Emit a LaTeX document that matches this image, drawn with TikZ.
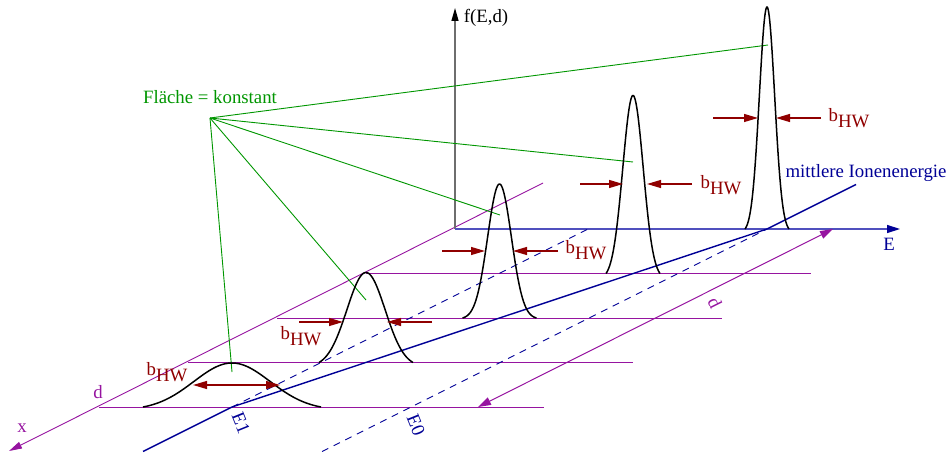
\documentclass[tikz,border=0pt]{standalone}
\usepackage{fontspec}
\setmainfont{Liberation Serif}
\usetikzlibrary{arrows.meta}
\definecolor{cpurple}{RGB}{150,20,160}
\definecolor{cgreen}{RGB}{0,150,0}
\definecolor{cred}{RGB}{144,0,0}
\definecolor{cblue}{RGB}{0,0,150}
\definecolor{caxisblue}{RGB}{80,80,190}
\definecolor{caxisgray}{RGB}{110,110,110}
\newcommand\gpeak[5]{% cx, baseline, height, hwhm, base half width
  \draw[peakline] plot[domain=-#5:#5, samples=90, smooth]
    ({#1+\x},{#2-#3*(exp(-0.6931*(\x/#4)^2)-exp(-0.6931*(#5/#4)^2))/(1-exp(-0.6931*(#5/#4)^2))});}
\newcommand\bhw{b\raisebox{-6pt}{HW}}
\tikzset{
  lbl/.style={font=\fontsize{18.8}{22}\selectfont, inner sep=0pt},
  peakline/.style={black, line width=1.5pt},
  levelline/.style={cpurple, line width=1pt},
  greenline/.style={cgreen, line width=0.9pt},
  hwarrow/.style={cred, line width=1.2pt, -{Triangle[length=14pt,width=8pt]}},
  hwdouble/.style={cred, line width=1.2pt, {Triangle[length=14pt,width=8pt]}-{Triangle[length=14pt,width=8pt]}},
  meanline/.style={cblue, line width=1.4pt},
  dashline/.style={cblue, line width=0.9pt, dash pattern=on 7pt off 6pt},
}
\begin{document}
\begin{tikzpicture}[x=1pt,y=-1pt]
\useasboundingbox (0,0) rectangle (949,454);
% key points
\coordinate (O) at (455,229);
\coordinate (Etip) at (900,229);
\coordinate (ftip) at (455,8);
\coordinate (xtop) at (543,183);
\coordinate (xtip) at (9,451);
% level lines
\coordinate (L0a) at (99,407);   \coordinate (L0b) at (544,407);
\coordinate (L1a) at (188,362.5); \coordinate (L1b) at (633,362.5);
\coordinate (L2a) at (277,318);  \coordinate (L2b) at (722,318);
\coordinate (L3a) at (366,273.5); \coordinate (L3b) at (811,273.5);
% mean energy line
\coordinate (M0) at (143,451.5);
\coordinate (M1) at (232,407);
\coordinate (M2) at (767,229);
\coordinate (M3) at (856,184.5);
% dashed lines
\coordinate (E1a) at (232,407); \coordinate (E1b) at (588,229);
\coordinate (E0a) at (322,451.5); \coordinate (E0b) at (767,229);
% d arrow
\coordinate (da) at (478,407); \coordinate (db) at (833,229);
% green
\coordinate (G) at (210,118);
\coordinate (G4) at (768,45);
\coordinate (G3) at (633,162);
\coordinate (G2) at (500,215);
\coordinate (G1) at (366,300);
\coordinate (G0) at (232,372);

\draw[levelline] (L0a) -- (L0b);
\draw[levelline] (L1a) -- (L1b);
\draw[levelline] (L2a) -- (L2b);
\draw[levelline] (L3a) -- (L3b);
\draw[cpurple, line width=0.9pt, -{Triangle[length=13pt,width=7pt]}] (xtop) -- (xtip);
\draw[caxisgray, line width=1.3pt, -{Triangle[length=13pt,width=7pt,color=black,fill=black]}] (O) -- (ftip);
\draw[caxisblue, line width=1.4pt, -{Triangle[length=13pt,width=8pt,color=cblue,fill=cblue]}] (O) -- (Etip);

\draw[dashline] (E1a) -- (E1b);
\draw[dashline] (E0a) -- (E0b);
\draw[meanline] (M0) -- (M1) -- (M2) -- (M3);
\draw[cpurple, line width=1pt, {Triangle[length=13pt,width=8pt]}-{Triangle[length=13pt,width=8pt]}] (da) -- (db);

\draw[greenline] (G) -- (G4);
\draw[greenline] (G) -- (G3);
\draw[greenline] (G) -- (G2);
\draw[greenline] (G) -- (G1);
\draw[greenline] (G) -- (G0);

% peaks
\gpeak{232}{407}{44}{45}{89}
\gpeak{366}{362.5}{90}{22.5}{47}
\gpeak{499.5}{318}{134}{14}{37}
\gpeak{633}{273.5}{178}{12}{27}
\gpeak{767}{229}{222}{9}{22}

% half width arrows
\coordinate (a4l) at (713,118); \coordinate (a4lt) at (758,118);
\coordinate (a4r) at (821,118); \coordinate (a4rt) at (776,118);
\coordinate (a3l) at (580,184); \coordinate (a3lt) at (623,184);
\coordinate (a3r) at (692,184); \coordinate (a3rt) at (647,184);
\coordinate (a2l) at (442,251); \coordinate (a2lt) at (485,251);
\coordinate (a2r) at (558,251); \coordinate (a2rt) at (513,251);
\coordinate (a1l) at (299,322); \coordinate (a1lt) at (343,322);
\coordinate (a1r) at (432,322); \coordinate (a1rt) at (387,322);
\coordinate (a0l) at (193,385); \coordinate (a0r) at (280,385);
\draw[hwarrow] (a4l) -- (a4lt);
\draw[hwarrow] (a4r) -- (a4rt);
\draw[hwarrow] (a3l) -- (a3lt);
\draw[hwarrow] (a3r) -- (a3rt);
\draw[hwarrow] (a2l) -- (a2lt);
\draw[hwarrow] (a2r) -- (a2rt);
\draw[hwarrow] (a1l) -- (a1lt);
\draw[hwarrow] (a1r) -- (a1rt);
\draw[hwdouble] (a0l) -- (a0r);

% labels
\node[lbl] (tf) at (486,18) {f(E,d)};
\node[lbl, text=cblue] (tE) at (889,244) {E};
\node[lbl, text=cblue] (tmean) at (866,173) {mittlere Ionenenergie};
\node[lbl, text=cgreen] (tflaeche) at (210,97) {Fläche = konstant};
\node[lbl, text=cred] (b4) at (849,118) {\bhw};
\node[lbl, text=cred] (b3) at (721,185) {\bhw};
\node[lbl, text=cred] (b2) at (586,250) {\bhw};
\node[lbl, text=cred] (b1) at (301,336) {\bhw};
\node[lbl, text=cred] (b0) at (167,372) {\bhw};
\node[lbl, text=cpurple] (td) at (98,392) {d};
\node[lbl, text=cpurple] (tx) at (22,428) {x};
\node[lbl, text=cpurple, rotate=-63.4] (td2) at (715,303) {d};
\node[lbl, text=cblue, rotate=-68] (tE1) at (241,423) {E1};
\node[lbl, text=cblue, rotate=-68] (tE0) at (416,425) {E0};
\end{tikzpicture}
\end{document}
